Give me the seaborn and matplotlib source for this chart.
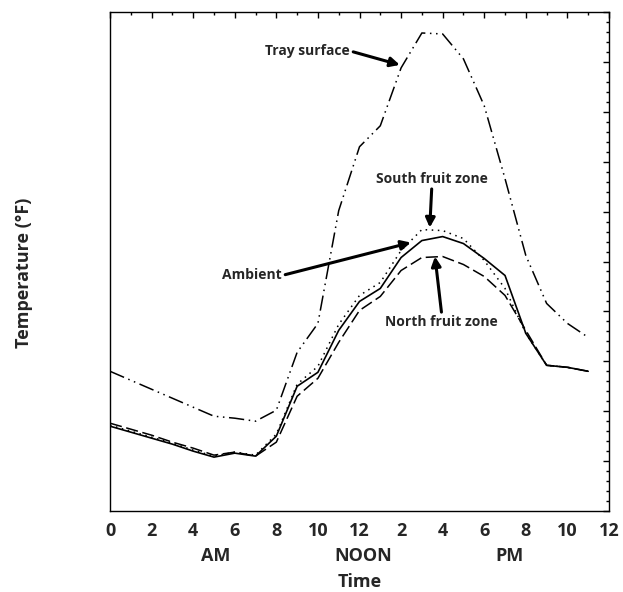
import numpy as np
import pandas as pd
import matplotlib
matplotlib.use("Agg")
import matplotlib.pyplot as plt
import seaborn as sns
from matplotlib.ticker import MultipleLocator

# hours after midnight, readings in deg F
hours = list(range(24))
tray_surface = [68.0, 66.2, 64.4, 62.6, 60.8, 59.0, 58.6, 58.0, 60.2, 71.8, 77.6, 100.2,
                113.0, 117.2, 128.8, 135.8, 135.6, 130.6, 121.2, 106.6, 91.2, 81.6, 77.6, 74.8]
ambient = [57.0, 55.8, 54.6, 53.4, 52.0, 50.8, 51.6, 51.0, 55.0, 65.0, 67.8, 76.2,
           82.0, 84.6, 90.8, 94.2, 95.0, 93.6, 90.6, 87.2, 75.6, 69.2, 68.8, 68.0]
south_zone = [57.2, 56.0, 54.8, 53.6, 52.2, 51.0, 51.8, 51.2, 55.4, 65.4, 69.0, 77.4,
              83.2, 85.8, 92.2, 96.4, 96.2, 94.6, 90.2, 84.6, 75.6, 69.2, 68.8, 68.0]
north_zone = [57.6, 56.4, 55.2, 53.8, 52.6, 51.2, 51.8, 51.0, 53.8, 63.0, 66.6, 73.8,
              80.2, 83.0, 88.2, 90.8, 91.0, 89.4, 87.0, 83.2, 76.2, 69.2, 68.8, 68.0]

tick_pos = list(range(0, 25, 2))
tick_labels = ["0", "2", "4", "6", "8", "10", "12", "2", "4", "6", "8", "10", "12"]

sns.set_style("white")
plt.rcParams["font.family"] = ["Open Sans", "DejaVu Sans"]
plt.rcParams["font.weight"] = "bold"

fig = plt.figure(figsize=(6.23, 5.92), dpi=100)
ax = fig.add_axes([0.1766, 0.1368, 0.8009, 0.8429])

df = pd.DataFrame({"hour": hours, "tray": tray_surface, "ambient": ambient,
                   "south": south_zone, "north": north_zone})

sns.lineplot(data=df, x="hour", y="tray", ax=ax, color="black", lw=1.1).lines[-1].set_dashes((10, 3, 1, 3, 1, 3))
sns.lineplot(data=df, x="hour", y="south", ax=ax, color="black", lw=1.1).lines[-1].set_dashes((1, 3))
sns.lineplot(data=df, x="hour", y="north", ax=ax, color="black", lw=1.1).lines[-1].set_dashes((8, 3))
sns.lineplot(data=df, x="hour", y="ambient", ax=ax, color="black", lw=1.2)

ax.set_xlim(0, 24)
ax.set_ylim(40, 140)
ax.set_xticks(tick_pos)
ax.set_xticklabels(tick_labels)
ax.xaxis.set_minor_locator(MultipleLocator(1))
ax.yaxis.set_major_locator(MultipleLocator(10))
ax.yaxis.set_minor_locator(MultipleLocator(2))
ax.tick_params(which="both", direction="in", top=True, right=True, color="black", width=1)
ax.tick_params(which="major", length=4, labelsize=13, pad=8)
ax.tick_params(which="minor", length=2.5)
ax.tick_params(axis="y", which="both", labelleft=False)
for s in ax.spines.values():
    s.set_color("black")
    s.set_linewidth(1)

ax.set_xlabel("Time", fontsize=13, fontweight="bold", labelpad=24)
ax.set_ylabel("Temperature (°F)", fontsize=13, fontweight="bold")
ax.yaxis.set_label_coords(-0.154, 0.477)

for xpos, lab in [(5.1, "AM"), (12.2, "NOON"), (19.2, "PM")]:
    ax.text(xpos, -0.09, lab, transform=ax.get_xaxis_transform(), ha="center",
            va="center", fontsize=13, fontweight="bold")

arrow = dict(arrowstyle="-|>", color="black", lw=2.2, mutation_scale=14,
             shrinkA=0, shrinkB=0)
ax.annotate("Tray surface", xy=(13.94, 129.4), xytext=(11.54, 132.2), ha="right",
            va="center", fontsize=10, fontweight="bold",
            arrowprops=dict(arrow, relpos=(1, 0.5)))
ax.annotate("South fruit zone", xy=(15.38, 96.8), xytext=(15.48, 106.6), ha="center",
            va="center", fontsize=10, fontweight="bold",
            arrowprops=dict(arrow, relpos=(0.5, 0)))
ax.annotate("Ambient", xy=(14.47, 93.8), xytext=(8.27, 87.2), ha="right",
            va="center", fontsize=10, fontweight="bold",
            arrowprops=dict(arrow, relpos=(1, 0.5)))
ax.annotate("North fruit zone", xy=(15.63, 91.0), xytext=(15.96, 77.8), ha="center",
            va="center", fontsize=10, fontweight="bold",
            arrowprops=dict(arrow, relpos=(0.5, 1)))

fig.savefig("out.png", dpi=100)
